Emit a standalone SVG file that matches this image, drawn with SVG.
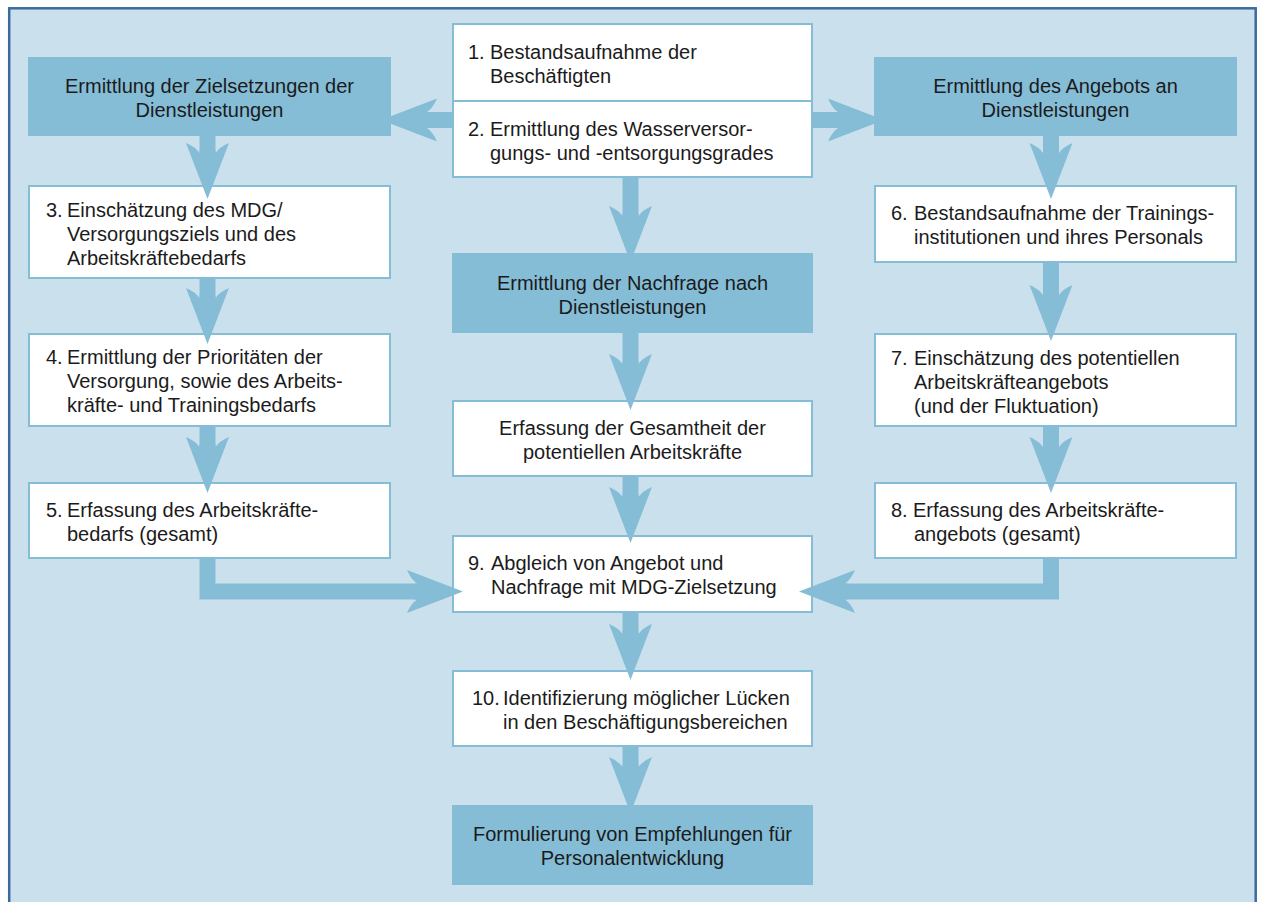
<svg xmlns="http://www.w3.org/2000/svg" width="1261" height="902" viewBox="0 0 1261 902">
<style>
.hdr{fill:#85bdd7}
.box{fill:#ffffff;stroke:#85bdd7;stroke-width:2}
.t{font-family:"Liberation Sans",Arial,sans-serif;font-size:20px;fill:#1b1b1b}
.c{text-anchor:middle}
.arr{fill:#85bdd7}
</style>
<defs>
<path id="ah" d="M0,0 L-21.5,-56 Q-12,-52 -8,-46 L-8,-49 L8,-49 L8,-46 Q12,-52 21.5,-56 Z"/>
</defs>
<rect x="9.2" y="8.3" width="1246.5" height="900" fill="#cae0ed" stroke="#3b6b9e" stroke-width="2.5"/>

<g id="n-hdrL"><rect class="hdr" x="28" y="57" width="363" height="79"/>
<text class="t c" x="209.5" y="93">Ermittlung der Zielsetzungen der</text>
<text class="t c" x="209.5" y="117">Dienstleistungen</text></g>

<g id="n3"><rect class="box" x="29" y="186" width="361" height="92"/>
<text class="t" x="46" y="217">3.</text>
<text class="t" x="67" y="217">Einschätzung des MDG/</text>
<text class="t" x="67" y="241">Versorgungsziels und des</text>
<text class="t" x="67" y="265">Arbeitskräftebedarfs</text></g>

<g id="n4"><rect class="box" x="29" y="334" width="361" height="92"/>
<text class="t" x="46" y="364">4.</text>
<text class="t" x="67" y="364">Ermittlung der Prioritäten der</text>
<text class="t" x="67" y="388">Versorgung, sowie des Arbeits-</text>
<text class="t" x="67" y="412">kräfte- und Trainingsbedarfs</text></g>

<g id="n5"><rect class="box" x="29" y="483" width="361" height="75"/>
<text class="t" x="46" y="517">5.</text>
<text class="t" x="67" y="517">Erfassung des Arbeitskräfte-</text>
<text class="t" x="67" y="541">bedarfs (gesamt)</text></g>

<g id="n1"><rect class="box" x="453" y="24" width="359" height="77"/>
<text class="t" x="468" y="59">1.</text>
<text class="t" x="490" y="59">Bestandsaufnahme der</text>
<text class="t" x="490" y="83">Beschäftigten</text></g>

<g id="n2"><rect class="box" x="453" y="101" width="359" height="76"/>
<text class="t" x="468" y="136">2.</text>
<text class="t" x="490" y="136">Ermittlung des Wasserversor-</text>
<text class="t" x="490" y="160">gungs- und -entsorgungsgrades</text></g>

<g id="n-hdrC"><rect class="hdr" x="452" y="253" width="361" height="80"/>
<text class="t c" x="632.5" y="290">Ermittlung der Nachfrage nach</text>
<text class="t c" x="632.5" y="314">Dienstleistungen</text></g>

<g id="n-ges"><rect class="box" x="453" y="401" width="359" height="75"/>
<text class="t c" x="632.5" y="435">Erfassung der Gesamtheit der</text>
<text class="t c" x="632.5" y="459">potentiellen Arbeitskräfte</text></g>

<g id="n9"><rect class="box" x="453" y="536" width="359" height="76"/>
<text class="t" x="468" y="570">9.</text>
<text class="t" x="491" y="570">Abgleich von Angebot und</text>
<text class="t" x="491" y="594">Nachfrage mit MDG-Zielsetzung</text></g>

<g id="n10"><rect class="box" x="453" y="671" width="359" height="75"/>
<text class="t" x="472" y="705">10.</text>
<text class="t" x="503" y="705">Identifizierung möglicher Lücken</text>
<text class="t" x="503" y="729">in den Beschäftigungsbereichen</text></g>

<g id="n-final"><rect class="hdr" x="452" y="805" width="361" height="80"/>
<text class="t c" x="632.5" y="841">Formulierung von Empfehlungen für</text>
<text class="t c" x="632.5" y="865">Personalentwicklung</text></g>

<g id="n-hdrR"><rect class="hdr" x="874" y="57" width="363" height="79"/>
<text class="t c" x="1055.5" y="93">Ermittlung des Angebots an</text>
<text class="t c" x="1055.5" y="117">Dienstleistungen</text></g>

<g id="n6"><rect class="box" x="875" y="186" width="361" height="76"/>
<text class="t" x="891" y="220">6.</text>
<text class="t" x="914" y="220">Bestandsaufnahme der Trainings-</text>
<text class="t" x="914" y="244">institutionen und ihres Personals</text></g>

<g id="n7"><rect class="box" x="875" y="334" width="361" height="92"/>
<text class="t" x="891" y="365">7.</text>
<text class="t" x="914" y="365">Einschätzung des potentiellen</text>
<text class="t" x="914" y="389">Arbeitskräfteangebots</text>
<text class="t" x="914" y="413">(und der Fluktuation)</text></g>

<g id="n8"><rect class="box" x="875" y="483" width="361" height="75"/>
<text class="t" x="891" y="517">8.</text>
<text class="t" x="913" y="517">Erfassung des Arbeitskräfte-</text>
<text class="t" x="914" y="541">angebots (gesamt)</text></g>

<g id="connectors" class="arr">
<!-- left column -->
<rect x="199.5" y="136" width="16" height="20"/><use href="#ah" transform="translate(207.5,199)"/>
<rect x="199.5" y="279" width="16" height="22"/><use href="#ah" transform="translate(207.5,344)"/>
<rect x="199.5" y="427" width="16" height="22"/><use href="#ah" transform="translate(207.5,493)"/>
<!-- center column -->
<rect x="622.5" y="178" width="16" height="40"/><use href="#ah" transform="translate(630.5,262)"/>
<rect x="622.5" y="333" width="16" height="33"/><use href="#ah" transform="translate(630.5,410)"/>
<rect x="622.5" y="477" width="16" height="22"/><use href="#ah" transform="translate(630.5,543)"/>
<rect x="622.5" y="613" width="16" height="23"/><use href="#ah" transform="translate(630.5,680)"/>
<rect x="622.5" y="747" width="16" height="23"/><use href="#ah" transform="translate(630.5,813)"/>
<!-- right column -->
<rect x="1043" y="136" width="16" height="20"/><use href="#ah" transform="translate(1051,199)"/>
<rect x="1043" y="263" width="16" height="35"/><use href="#ah" transform="translate(1051,341)"/>
<rect x="1043" y="427" width="16" height="22"/><use href="#ah" transform="translate(1051,493)"/>
<!-- top horizontal -->
<rect x="420" y="112" width="33" height="16"/><use href="#ah" transform="translate(381,120) rotate(90)"/>
<rect x="812" y="112" width="30" height="16"/><use href="#ah" transform="translate(884,120) rotate(-90)"/>
<!-- bottom L arrows into 9 -->
<path d="M199.5,559 H215.5 V583.5 H420 V599.5 H199.5 Z"/><use href="#ah" transform="translate(463,591.5) rotate(-90)"/>
<path d="M1059,559 H1043 V583.5 H842 V599.5 H1059 Z"/><use href="#ah" transform="translate(799,591.5) rotate(90)"/>
</g>
</svg>
